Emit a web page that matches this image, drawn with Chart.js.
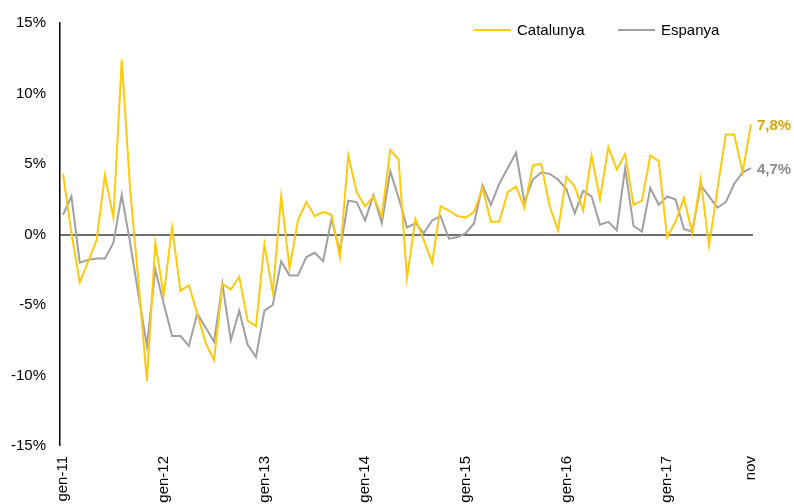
<!DOCTYPE html>
<html>
<head>
<meta charset="utf-8">
<script src="https://cdn.jsdelivr.net/npm/chart.js@4/dist/chart.umd.min.js"></script>
<style>
  html, body { margin: 0; padding: 0; background: #fff; overflow: hidden; }
  #wrap { width: 794px; height: 504px; }
</style>
</head>
<body>
<div id="wrap"><canvas id="chart" width="794" height="504"></canvas></div>
<script>
// Monthly values, gen-11 .. nov-17 (83 months)
const catalunya = [4.3, 0.1, -3.4, -1.9, -0.4, 4.2, 1.2, 12.4, 3.2, -3.4,
  -10.4, -0.6, -4.3, 0.5, -4.0, -3.6, -5.6, -7.7, -8.9, -3.5,
  -3.9, -3.0, -6.1, -6.5, -0.7, -4.1, 2.7, -2.4, 1.0, 2.3,
  1.3, 1.6, 1.4, -1.6, 5.6, 3.0, 2.0, 2.7, 1.3, 6.0,
  5.3, -3.1, 1.1, -0.4, -2.0, 2.0, 1.7, 1.3, 1.2, 1.6,
  3.3, 0.9, 0.9, 3.0, 3.4, 1.9, 4.9, 5.0, 2.0, 0.3,
  4.1, 3.4, 1.7, 5.6, 2.5, 6.2, 4.6, 5.7, 2.1, 2.4,
  5.6, 5.2, -0.2, 0.9, 2.6, 0.1, 3.9, -0.8, 3.2, 7.1,
  7.1, 4.4, 7.8];
const espanya = [1.4, 2.7, -2.0, -1.8, -1.7, -1.7, -0.6, 2.8, -0.6, -4.3,
  -7.9, -2.5, -4.9, -7.2, -7.2, -7.9, -5.6, -6.6, -7.6, -3.5,
  -7.5, -5.4, -7.8, -8.7, -5.4, -5.0, -1.9, -2.9, -2.9, -1.6,
  -1.3, -1.9, 1.1, -1.2, 2.4, 2.3, 1.0, 2.8, 0.8, 4.5,
  2.6, 0.5, 0.8, 0.1, 1.0, 1.3, -0.3, -0.2, 0.1, 0.8,
  3.5, 2.1, 3.6, 4.7, 5.8, 2.3, 3.9, 4.4, 4.3, 3.9,
  3.2, 1.5, 3.1, 2.7, 0.7, 0.9, 0.3, 4.7, 0.6, 0.2,
  3.3, 2.1, 2.7, 2.5, 0.4, 0.2, 3.5, 2.7, 1.9, 2.3,
  3.6, 4.4, 4.7];

// x tick positions (month index) and their labels
const tickPositions = [0, 12, 24, 36, 48, 60, 72, 82];
const tickLabels = ['gen-11', 'gen-12', 'gen-13', 'gen-14', 'gen-15', 'gen-16', 'gen-17', 'nov'];

const endLabels = ['7,8%', '4,7%'];

const FONT = "'Liberation Sans', Arial, sans-serif";
const YELLOW = '#FFC90E';
const GREY = '#A0A0A0';

const toPoints = arr => arr.map((v, i) => ({ x: i, y: v }));

// legend + end-of-line labels
const extras = {
  id: 'extras',
  afterDraw(chart) {
    const ctx = chart.ctx;
    const area = chart.chartArea;
    const y = chart.scales.y;
    ctx.save();
    ctx.font = '15px ' + FONT;
    ctx.textBaseline = 'middle';
    ctx.textAlign = 'left';
    // legend
    const items = [
      { x: 474, label: chart.data.datasets[0].label, color: YELLOW },
      { x: 618, label: chart.data.datasets[1].label, color: GREY }
    ];
    items.forEach(it => {
      ctx.strokeStyle = it.color;
      ctx.lineWidth = 2;
      ctx.beginPath();
      ctx.moveTo(it.x, 30);
      ctx.lineTo(it.x + 37, 30);
      ctx.stroke();
      ctx.fillStyle = '#000';
      ctx.fillText(it.label, it.x + 43, 31);
    });
    // last values
    ctx.font = 'bold 15px ' + FONT;
    ctx.fillStyle = '#D9A40A';
    ctx.fillText(endLabels[0], area.right + 4, y.getPixelForValue(catalunya[catalunya.length - 1]) + 1);
    ctx.fillStyle = '#8A8A8A';
    ctx.fillText(endLabels[1], area.right + 4, y.getPixelForValue(espanya[espanya.length - 1]) + 2);
    ctx.restore();
  }
};

new Chart(document.getElementById('chart').getContext('2d'), {
  type: 'line',
  data: {
    datasets: [
      {
        label: 'Catalunya',
        data: toPoints(catalunya),
        borderColor: YELLOW,
        borderWidth: 2,
        pointRadius: 0,
        tension: 0
      },
      {
        label: 'Espanya',
        data: toPoints(espanya),
        borderColor: GREY,
        borderWidth: 2,
        pointRadius: 0,
        tension: 0
      }
    ]
  },
  options: {
    responsive: false,
    animation: false,
    layout: { padding: { top: 23, right: 41, left: 0, bottom: 0 } },
    plugins: {
      legend: { display: false },
      tooltip: { enabled: false }
    },
    scales: {
      x: {
        type: 'linear',
        min: -0.36,
        max: 82.24,
        grid: { display: false, drawTicks: false },
        border: { display: false },
        afterBuildTicks: s => { s.ticks = tickPositions.map(v => ({ value: v })); },
        afterFit: s => { s.height = 58; },
        ticks: {
          autoSkip: false,
          minRotation: 90,
          maxRotation: 90,
          padding: 10,
          color: '#000',
          font: { family: FONT, size: 15 },
          callback: v => tickLabels[tickPositions.indexOf(v)]
        }
      },
      y: {
        min: -15,
        max: 15,
        afterFit: s => { s.width = 60; },
        grid: {
          drawTicks: false,
          color: c => c.tick.value === 0 ? '#6E6E6E' : 'rgba(0,0,0,0)',
          lineWidth: c => c.tick.value === 0 ? 2 : 0
        },
        border: { display: true, color: '#000', width: 1.5 },
        ticks: {
          stepSize: 5,
          padding: 14,
          color: '#000',
          font: { family: FONT, size: 15 },
          callback: v => v + '%'
        }
      }
    }
  },
  plugins: [extras]
});
</script>
</body>
</html>
